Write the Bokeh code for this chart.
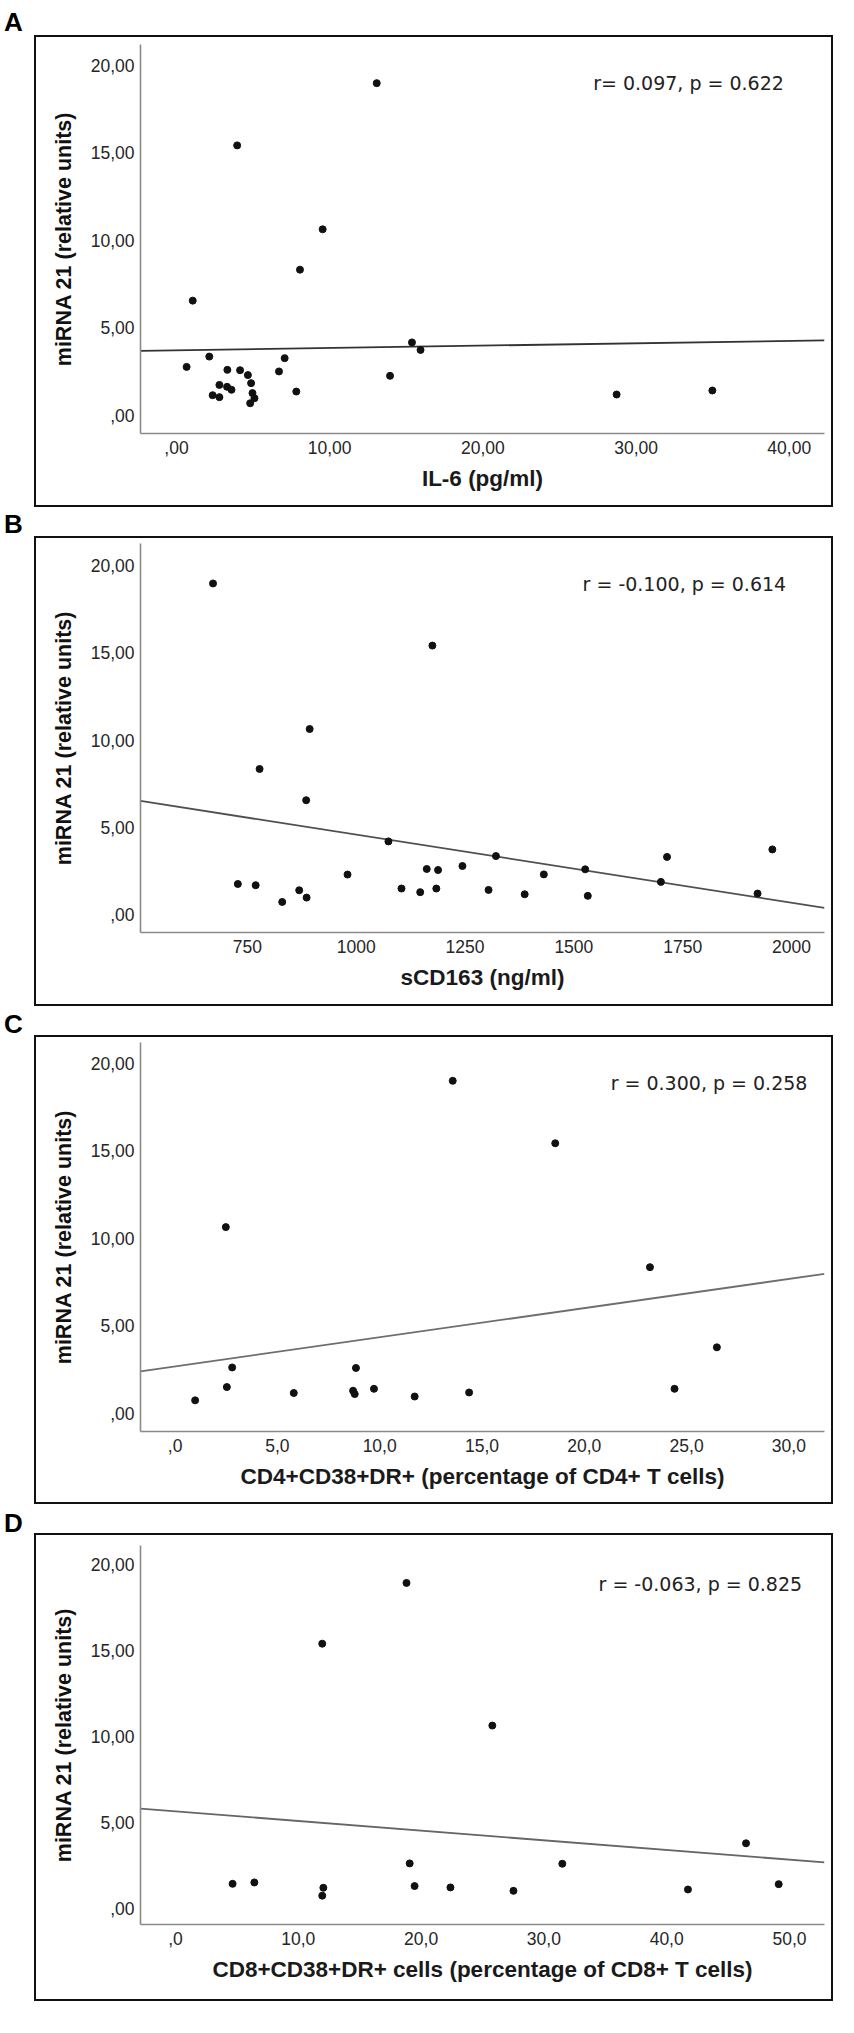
from bokeh.plotting import figure
from bokeh.models import Range1d, FixedTicker, Label, Div
from bokeh.layouts import column
from bokeh.embed import file_html
from bokeh.resources import INLINE

# ---------------- data ----------------
y_title = "miRNA 21 (relative units)"
y_ticks = [0, 5, 10, 15, 20]
y_tick_labels = [",00", "5,00", "10,00", "15,00", "20,00"]

# Panel A: IL-6
a_x = [13.07, 3.96, 9.54, 8.06, 1.06, 0.66, 2.14, 3.32, 4.15, 4.66, 4.87, 6.69, 7.06,
       2.80, 3.30, 3.59, 2.36, 2.80, 4.96, 5.09, 4.81, 7.82, 13.94, 15.37, 15.93, 28.73, 34.98]
a_y = [18.99, 15.43, 10.63, 8.32, 6.55, 2.76, 3.35, 2.59, 2.57, 2.29, 1.83, 2.50, 3.26,
       1.73, 1.62, 1.45, 1.14, 1.03, 1.26, 0.97, 0.68, 1.35, 2.25, 4.16, 3.73, 1.18, 1.41]
a_xlim = [-2.35, 42.3]
a_ylim = [-1.05, 21.2]
a_xticks = [0, 10, 20, 30, 40]
a_xtick_labels = [",00", "10,00", "20,00", "30,00", "40,00"]
a_xtitle = "IL-6 (pg/ml)"
a_fit = [3.71, 0.0133]          # intercept, slope
a_stats = "r= 0.097, p = 0.622"

# Panel B: sCD163
b_x = [671, 1175, 893, 778, 885, 1074, 1321, 1956, 1714, 1244, 1162, 1188, 1526, 980,
       1431, 728, 769, 1700, 1104, 1184, 1304, 869, 1147, 1387, 886, 1532, 1922, 830]
b_y = [18.97, 15.41, 10.63, 8.34, 6.55, 4.19, 3.35, 3.73, 3.30, 2.78, 2.61, 2.55, 2.59, 2.29,
       2.30, 1.75, 1.68, 1.87, 1.49, 1.49, 1.41, 1.39, 1.28, 1.16, 0.97, 1.07, 1.20, 0.72]
b_xlim = [504.4, 2075.8]
b_ylim = [-1.03, 21.26]
b_xticks = [750, 1000, 1250, 1500, 1750, 2000]
b_xtick_labels = ["750", "1000", "1250", "1500", "1750", "2000"]
b_xtitle = "sCD163 (ng/ml)"
b_fit = [8.478, -0.003901]
b_stats = "r = -0.100, p = 0.614"

# Panel C: CD4+CD38+DR+
c_x = [13.57, 18.58, 2.48, 23.21, 26.48, 2.79, 8.84, 2.53, 9.72, 24.41, 8.70, 8.78,
       5.80, 14.37, 11.71, 0.98]
c_y = [18.99, 15.42, 10.63, 8.34, 3.76, 2.61, 2.58, 1.49, 1.39, 1.39, 1.28, 1.09,
       1.15, 1.18, 0.95, 0.73]
c_xlim = [-1.69, 31.74]
c_ylim = [-1.05, 21.18]
c_xticks = [0, 5, 10, 15, 20, 25, 30]
c_xtick_labels = [",0", "5,0", "10,0", "15,0", "20,0", "25,0", "30,0"]
c_xtitle = "CD4+CD38+DR+ (percentage of CD4+ T cells)"
c_fit = [2.67, 0.1666]
c_stats = "r = 0.300, p = 0.258"

# Panel D: CD8+CD38+DR+
d_x = [18.81, 11.95, 25.80, 46.46, 19.07, 31.50, 4.65, 6.42, 12.04, 11.95, 19.47,
       22.39, 27.52, 41.73, 49.12]
d_y = [18.95, 15.41, 10.64, 3.78, 2.61, 2.59, 1.42, 1.50, 1.19, 0.73, 1.29,
       1.21, 1.01, 1.09, 1.40]
d_xlim = [-2.85, 52.85]
d_ylim = [-0.95, 21.13]
d_xticks = [0, 10, 20, 30, 40, 50]
d_xtick_labels = [",0", "10,0", "20,0", "30,0", "40,0", "50,0"]
d_xtitle = "CD8+CD38+DR+ cells (percentage of CD8+ T cells)"
d_fit = [5.643, -0.0563]
d_stats = "r = -0.063, p = 0.825"

panel_letters = ["A", "B", "C", "D"]

# ---------------- layout / style ----------------
FONT = "'Liberation Sans', Arial, sans-serif"
CANVAS_W = 799
panels = [
    dict(x=a_x, y=a_y, xlim=a_xlim, ylim=a_ylim, xt=a_xticks, xtl=a_xtick_labels,
         xtitle=a_xtitle, fit=a_fit, stats=a_stats, ann=(27.2, 18.98),
         h=472, top=7, bottom=76, line="#333333", div_h=35, pad=9.5),
    dict(x=b_x, y=b_y, xlim=b_xlim, ylim=b_ylim, xt=b_xticks, xtl=b_xtick_labels,
         xtitle=b_xtitle, fit=b_fit, stats=b_stats, ann=(1520, 18.93),
         h=470, top=5, bottom=76, line="#505050", div_h=29, pad=4.7),
    dict(x=c_x, y=c_y, xlim=c_xlim, ylim=c_ylim, xt=c_xticks, xtl=c_xtick_labels,
         xtitle=c_xtitle, fit=c_fit, stats=c_stats, ann=(21.29, 18.85),
         h=469, top=5, bottom=75, line="#6e6e6e", div_h=29, pad=6.2),
    dict(x=d_x, y=d_y, xlim=d_xlim, ylim=d_ylim, xt=d_xticks, xtl=d_xtick_labels,
         xtitle=d_xtitle, fit=d_fit, stats=d_stats, ann=(34.45, 18.89),
         h=468, top=10, bottom=79, line="#666666", div_h=29, pad=6.7),
]


def make_panel(cfg):
    p = figure(width=CANVAS_W, height=cfg["h"],
               x_range=Range1d(cfg["xlim"][0], cfg["xlim"][1]),
               y_range=Range1d(cfg["ylim"][0], cfg["ylim"][1]),
               output_backend="svg", toolbar_location=None,
               min_border_left=104, min_border_right=11,
               min_border_top=cfg["top"], min_border_bottom=cfg["bottom"])
    p.margin = (0, 0, 0, 34)
    p.styles = {"border": "2px solid #111111"}
    p.outline_line_color = None
    p.grid.visible = False
    p.background_fill_color = "white"
    p.border_fill_color = "white"

    for ax in (p.xaxis[0], p.yaxis[0]):
        ax.axis_line_color = "#8a8a8a"
        ax.axis_line_width = 1.6
        ax.major_tick_line_color = None
        ax.minor_tick_line_color = None
        ax.major_tick_out = 0
        ax.major_tick_in = 0
        ax.major_label_text_font = FONT
        ax.major_label_text_font_size = "17.5px"
        ax.major_label_text_color = "#262626"

    p.xaxis.ticker = FixedTicker(ticks=cfg["xt"])
    p.xaxis.major_label_overrides = {t: l for t, l in zip(cfg["xt"], cfg["xtl"])}
    p.xaxis.major_label_standoff = 7
    p.xaxis.axis_label = cfg["xtitle"]
    p.xaxis.axis_label_text_font = FONT
    p.xaxis.axis_label_text_font_size = "22.5px"
    p.xaxis.axis_label_text_font_style = "bold"
    p.xaxis.axis_label_text_color = "#1a1a1a"
    p.xaxis.axis_label_standoff = 9

    p.yaxis.ticker = FixedTicker(ticks=y_ticks)
    p.yaxis.major_label_overrides = {t: l for t, l in zip(y_ticks, y_tick_labels)}
    p.yaxis.major_label_standoff = 6
    p.yaxis.axis_label = y_title
    p.yaxis.axis_label_text_font = FONT
    p.yaxis.axis_label_text_font_size = "21.5px"
    p.yaxis.axis_label_text_font_style = "bold"
    p.yaxis.axis_label_text_color = "#111111"
    p.yaxis.axis_label_standoff = 12

    x0, x1 = cfg["xlim"]
    b0, b1 = cfg["fit"]
    p.line([x0, x1], [b0 + b1 * x0, b0 + b1 * x1], line_color=cfg["line"], line_width=1.8)

    p.scatter(cfg["x"], cfg["y"], marker="circle", size=7,
              fill_color="#111111", line_color="#111111")

    p.add_layout(Label(x=cfg["ann"][0], y=cfg["ann"][1], text=cfg["stats"],
                       text_font="'DejaVu Sans', sans-serif", text_font_size="19px",
                       text_color="#222222", text_baseline="middle", text_align="left"))
    return p


children = []
for letter, cfg in zip(panel_letters, panels):
    children.append(Div(
        text=(f'<div style="font-family:{FONT}; font-weight:bold; font-size:26px; '
              f'line-height:25px; padding-top:{cfg["pad"]}px; padding-left:4px; color:#000;">'
              f'{letter}</div>'),
        width=80, height=cfg["div_h"], margin=(0, 0, 0, 0)))
    children.append(make_panel(cfg))

layout = column(*children, spacing=0)
open("out.html", "w").write(file_html(layout, INLINE))
